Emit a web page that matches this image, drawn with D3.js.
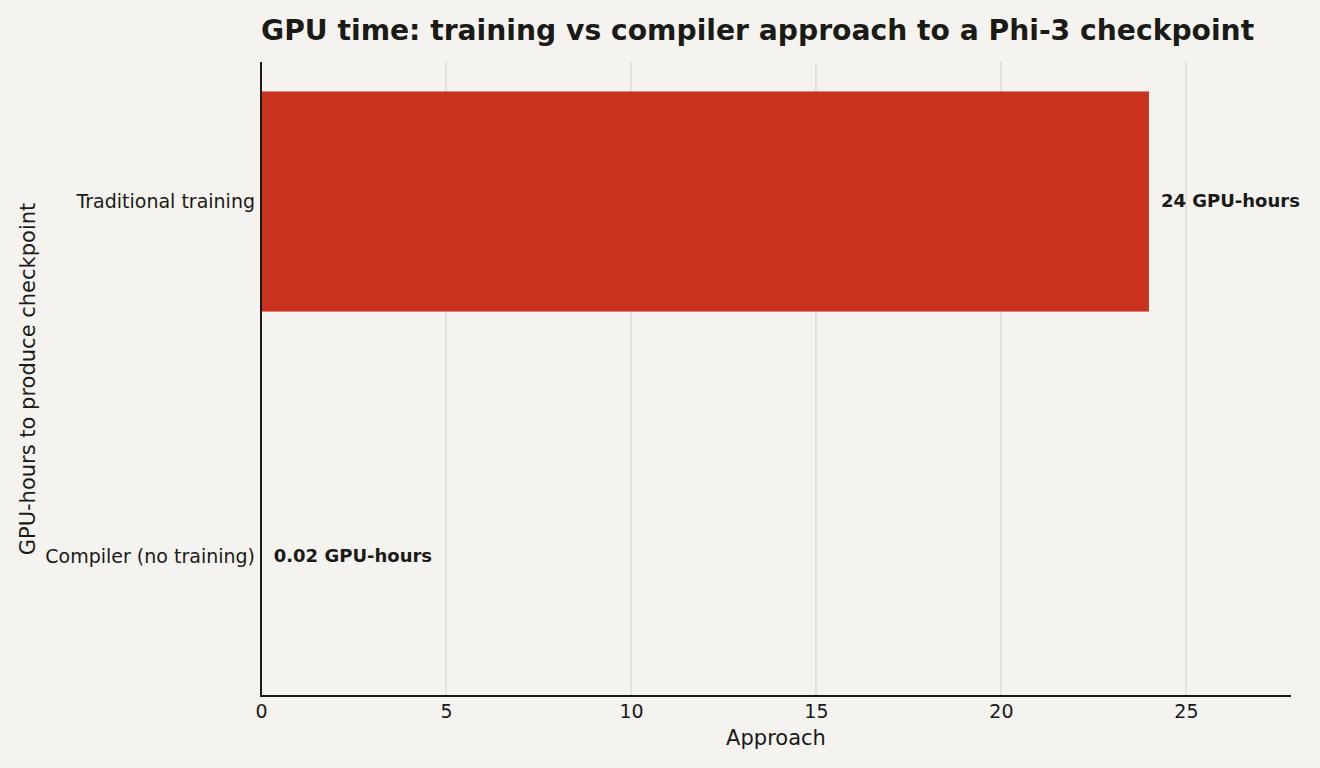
<!DOCTYPE html>
<html><head><meta charset="utf-8">
<script src="https://cdn.jsdelivr.net/npm/d3@7"></script>
<style>body{margin:0;background:#f4f3ef;} svg{display:block;font-family:"DejaVu Sans",sans-serif;}</style>
</head><body>
<svg id="c" width="1320" height="768"></svg>
<script>
const categories = ["Traditional training", "Compiler (no training)"];
const values = [24, 0.02];
const valueLabels = ["24 GPU-hours", "0.02 GPU-hours"];
const barColors = ["#c8321f", "#2a7f62"];
const xTicks = [0, 5, 10, 15, 20, 25];
const title = "GPU time: training vs compiler approach to a Phi-3 checkpoint";
const xTitle = "Approach";
const yTitle = "GPU-hours to produce checkpoint";

const svg = d3.select("#c");
const L = 261, R = 1291, T = 62, B = 696;
svg.append("rect").attr("width",1320).attr("height",768).attr("fill","#f4f3ef");

const x = d3.scaleLinear().domain([0, d3.max(values)*1.16]).range([L, R]);
const y = d3.scaleBand().domain(categories).range([T, B]).paddingInner(0.38).paddingOuter(0.083);

// grid
svg.append("g").selectAll("line").data(xTicks).join("line")
  .attr("x1", d=>x(d)).attr("x2", d=>x(d)).attr("y1", T).attr("y2", B)
  .attr("stroke", "#dddbd3").attr("stroke-width", 1.5);

// bars
svg.append("g").selectAll("rect").data(categories).join("rect")
  .attr("x", x(0)).attr("y", d=>y(d)).attr("height", y.bandwidth())
  .attr("width", (d,i)=>x(values[i]) - x(0)).attr("fill", (d,i)=>barColors[i]);

// value labels
svg.append("g").selectAll("text").data(categories).join("text")
  .attr("x", (d,i)=>x(values[i]) + 12).attr("y", d=>y(d)+y.bandwidth()/2)
  .attr("dy","0.32em").attr("font-size", 18).attr("font-weight","bold").attr("fill","#1a1a16")
  .text((d,i)=>valueLabels[i]);

// x axis
const xa = svg.append("g").attr("transform", `translate(0,${B})`)
  .call(d3.axisBottom(x).tickValues(xTicks).tickSize(0).tickPadding(9).tickFormat(d3.format("d")));
xa.select(".domain").remove();
xa.selectAll("text").attr("font-size", 19).attr("fill","#1a1a16").attr("font-family","DejaVu Sans");

// y axis
const ya = svg.append("g").attr("transform", `translate(${L},0)`)
  .call(d3.axisLeft(y).tickSize(0).tickPadding(6));
ya.select(".domain").remove();
ya.selectAll("text").attr("font-size", 19).attr("fill","#1a1a16").attr("font-family","DejaVu Sans");

// spines
svg.append("line").attr("x1",L).attr("x2",L).attr("y1",T).attr("y2",B+1).attr("stroke","#1a1a16").attr("stroke-width",2);
svg.append("line").attr("x1",L-1).attr("x2",R).attr("y1",B).attr("y2",B).attr("stroke","#1a1a16").attr("stroke-width",2);

// titles
svg.append("text").attr("x", L).attr("y", 40).attr("font-size", 28.2).attr("font-weight","bold")
  .attr("fill","#1a1a16").text(title);
svg.append("text").attr("x", (L+R)/2).attr("y", 745).attr("text-anchor","middle").attr("font-size",21)
  .attr("fill","#1a1a16").text(xTitle);
svg.append("text").attr("transform", `translate(35,${(T+B)/2}) rotate(-90)`).attr("text-anchor","middle")
  .attr("font-size",21).attr("fill","#1a1a16").text(yTitle);
</script>
</body></html>
